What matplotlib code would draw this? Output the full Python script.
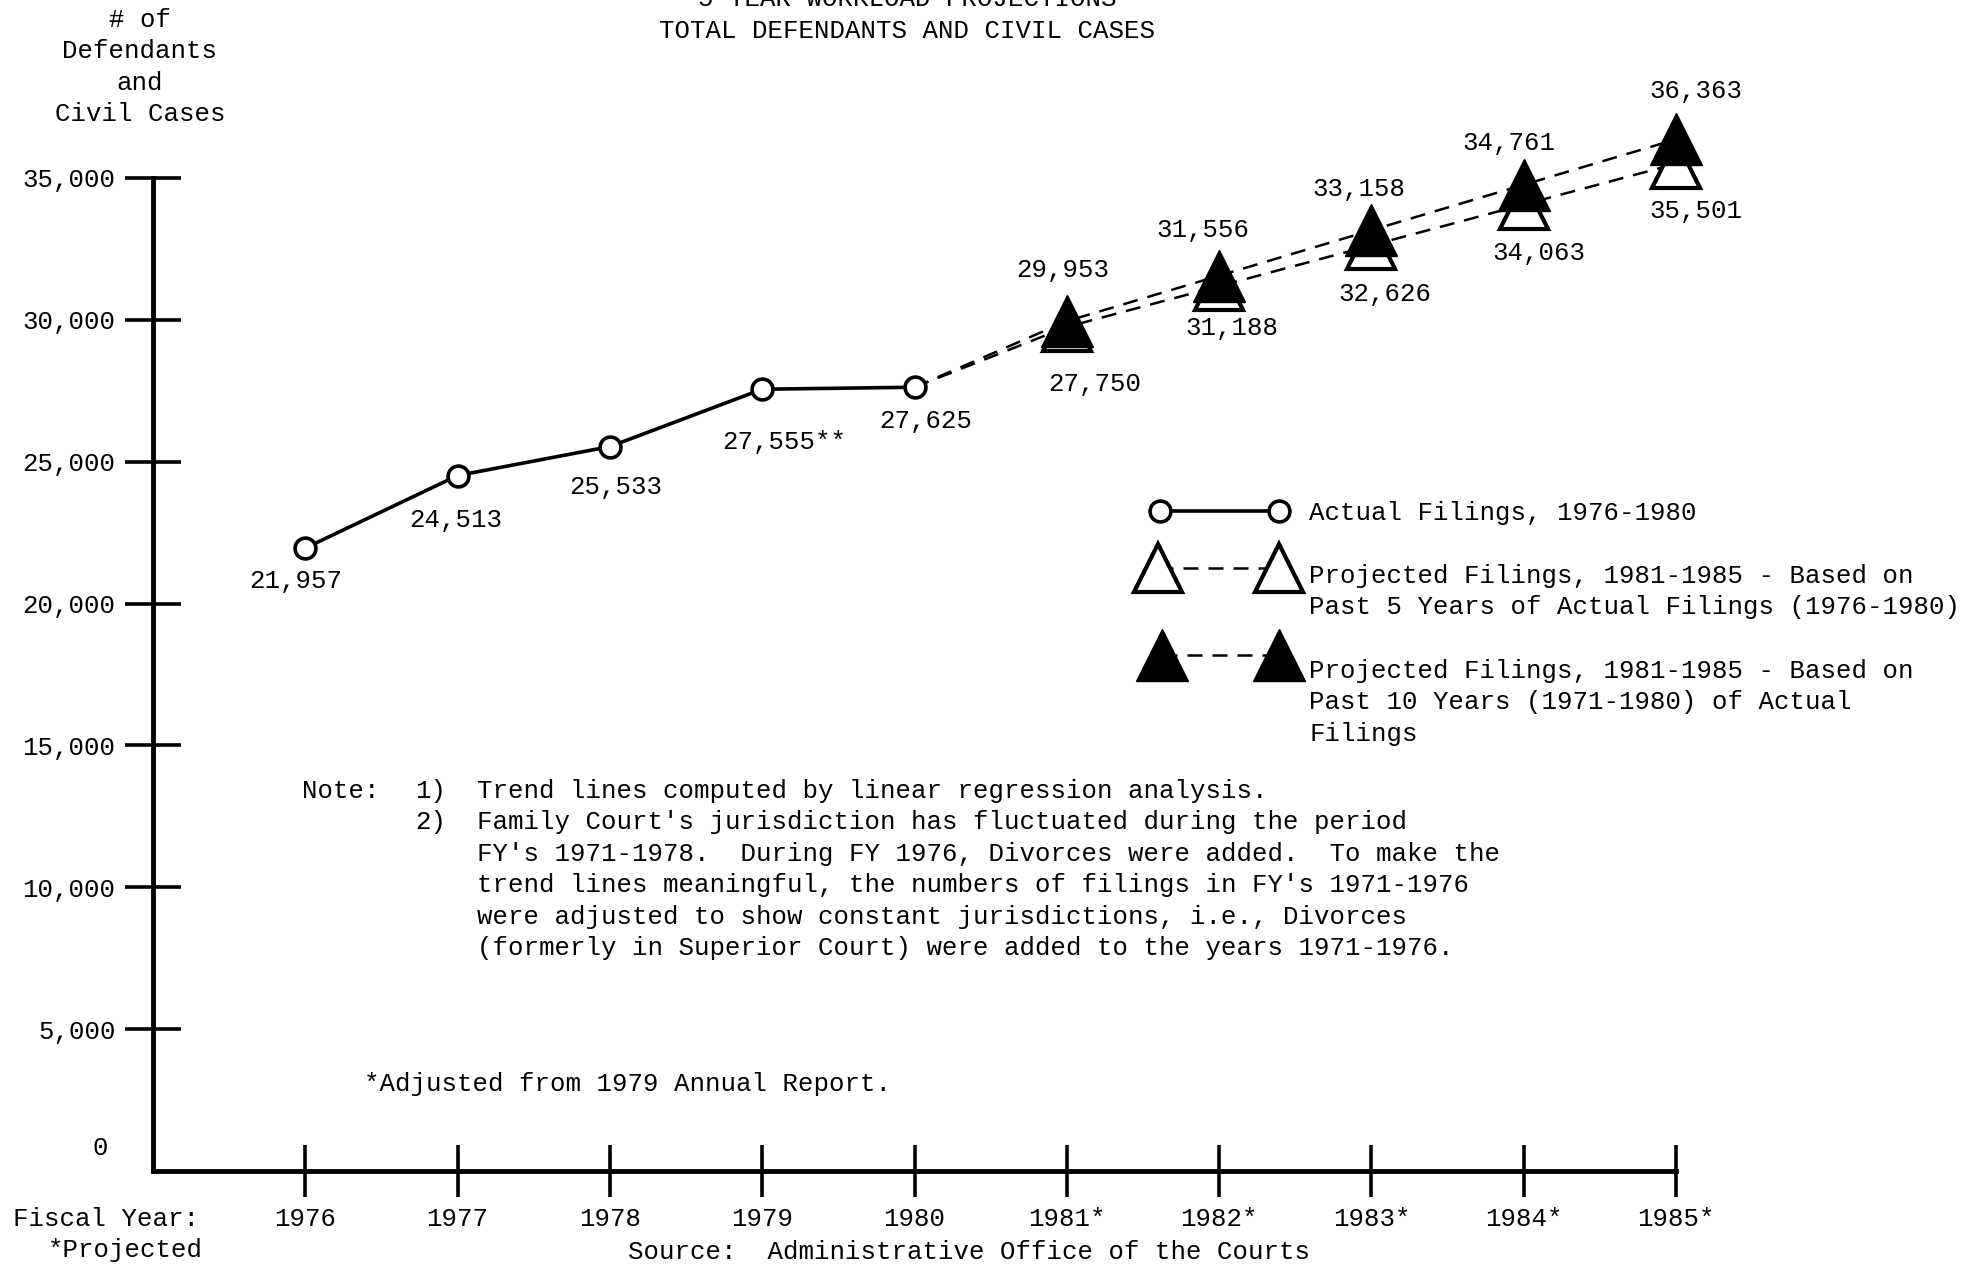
import matplotlib
matplotlib.use('Agg')
import matplotlib.pyplot as plt
import matplotlib.lines as mlines

# 打字机风格字体
plt.rcParams['font.family'] = ['Liberation Mono', 'DejaVu Sans Mono']
plt.rcParams['font.size'] = 18.5

# 数据
actual_years = [1976, 1977, 1978, 1979, 1980]
actual_values = [21957, 24513, 25533, 27555, 27625]
actual_labels = ['21,957', '24,513', '25,533', '27,555**', '27,625']

proj_years = [1981, 1982, 1983, 1984, 1985]
proj5_values = [29750, 31188, 32626, 34063, 35501]
proj5_labels = ['27,750', '31,188', '32,626', '34,063', '35,501']
proj10_values = [29953, 31556, 33158, 34761, 36363]
proj10_labels = ['29,953', '31,556', '33,158', '34,761', '36,363']

year_ticks = [1976, 1977, 1978, 1979, 1980, 1981, 1982, 1983, 1984, 1985]
year_labels = ['1976', '1977', '1978', '1979', '1980',
               '1981*', '1982*', '1983*', '1984*', '1985*']
y_ticks = [5000, 10000, 15000, 20000, 25000, 30000, 35000]
y_labels = ['5,000', '10,000', '15,000', '20,000', '25,000', '30,000', '35,000']

W, H = 1970, 1264
LS = 1.39  # 行距


def fx(px):
    return px / W


def fy(py):
    return 1 - py / H


fig = plt.figure(figsize=(W / 100, H / 100), dpi=100)
ax = fig.add_axes([fx(153), fy(1171), fx(1676) - fx(153), fy(178) - fy(1171)])

# 实际值
ax.plot(actual_years, actual_values, color='black', lw=2.6, zorder=3,
        marker='o', ms=15, mfc='white', mec='black', mew=2.6, clip_on=False)

# 预测值（虚线）
ax.plot([actual_years[-1]] + proj_years, [actual_values[-1]] + proj10_values,
        color='black', lw=1.8, ls=(0, (6, 4)), zorder=2, clip_on=False)
ax.plot([actual_years[-1]] + proj_years, [actual_values[-1]] + proj5_values,
        color='black', lw=1.8, ls=(0, (6, 4)), zorder=2, clip_on=False)
ax.plot(proj_years, proj5_values, ls='none', marker='^', ms=34, mfc='white',
        mec='black', mew=3, zorder=4, clip_on=False)
ax.plot(proj_years, proj10_values, ls='none', marker='^', ms=37, mfc='black',
        mec='black', mew=1, zorder=5, clip_on=False)

# 数据标签
actual_off = [(-7, -24), (-1, -32), (4, -29), (16, -38), (8, -24)]
p10_off = [(-3, 37), (-12, 33), (-9, 30), (-11, 30), (14, 35)]
p5_off = [(20, -41), (9, -30), (10, -35), (11, -35), (14, -34)]
for x, v, lab, off in zip(actual_years, actual_values, actual_labels, actual_off):
    ax.annotate(lab, (x, v), xytext=off, textcoords='offset points',
                ha='center', va='center', annotation_clip=False)
for x, v, lab, off in zip(proj_years, proj10_values, proj10_labels, p10_off):
    ax.annotate(lab, (x, v), xytext=off, textcoords='offset points',
                ha='center', va='center', annotation_clip=False)
for x, v, lab, off in zip(proj_years, proj5_values, proj5_labels, p5_off):
    ax.annotate(lab, (x, v), xytext=off, textcoords='offset points',
                ha='center', va='center', annotation_clip=False)

# 坐标轴
ax.set_xlim(1975, 1985)
ax.set_ylim(0, 35000)
ax.set_xticks(year_ticks, year_labels)
ax.set_yticks(y_ticks, y_labels)
ax.tick_params(axis='x', direction='inout', length=38, width=2.6, pad=7)
ax.tick_params(axis='y', direction='inout', length=40, width=2.6, pad=7)
for s in ['top', 'right']:
    ax.spines[s].set_visible(False)
for s in ['left', 'bottom']:
    ax.spines[s].set_linewidth(3.5)
ax.patch.set_alpha(0)

# 标题和轴标签
fig.text(fx(907), fy(-1), '5-YEAR WORKLOAD PROJECTIONS', ha='center', va='center')
fig.text(fx(907), fy(31), 'TOTAL DEFENDANTS AND CIVIL CASES', ha='center', va='center')
fig.text(fx(140), fy(8), '# of\nDefendants\nand\nCivil Cases',
         ha='center', va='top', multialignment='center', linespacing=LS)
fig.text(fx(100), fy(1148), '0', ha='center', va='center')
fig.text(fx(13), fy(1219), 'Fiscal Year:', ha='left', va='center')
fig.text(fx(125), fy(1250), '*Projected', ha='center', va='center')
fig.text(fx(628), fy(1252), 'Source:  Administrative Office of the Courts',
         ha='left', va='center')

# 图例（手绘）
fig.add_artist(mlines.Line2D([fx(1160), fx(1279)], [fy(511), fy(511)],
                             color='black', lw=2.6, marker='o', ms=15,
                             mfc='white', mec='black', mew=2.6))
fig.add_artist(mlines.Line2D([fx(1158), fx(1279)], [fy(568), fy(568)],
                             color='black', lw=1.8, ls=(0, (6, 4)), marker='^',
                             ms=34, mfc='white', mec='black', mew=3))
fig.add_artist(mlines.Line2D([fx(1162), fx(1279)], [fy(655), fy(655)],
                             color='black', lw=1.8, ls=(0, (6, 4)), marker='^',
                             ms=37, mfc='black', mec='black', mew=1))
fig.text(fx(1309), fy(513), 'Actual Filings, 1976-1980', va='center')
fig.text(fx(1309), fy(564), 'Projected Filings, 1981-1985 - Based on\n'
         'Past 5 Years of Actual Filings (1976-1980)', va='top', linespacing=LS)
fig.text(fx(1309), fy(659), 'Projected Filings, 1981-1985 - Based on\n'
         'Past 10 Years (1971-1980) of Actual\nFilings', va='top', linespacing=LS)

# 注释
fig.text(fx(302), fy(779), 'Note:', va='top')
fig.text(fx(415), fy(779), '1)\n2)', va='top', linespacing=LS)
fig.text(fx(477), fy(779),
         'Trend lines computed by linear regression analysis.\n'
         "Family Court's jurisdiction has fluctuated during the period\n"
         "FY's 1971-1978.  During FY 1976, Divorces were added.  To make the\n"
         "trend lines meaningful, the numbers of filings in FY's 1971-1976\n"
         'were adjusted to show constant jurisdictions, i.e., Divorces\n'
         '(formerly in Superior Court) were added to the years 1971-1976.',
         va='top', linespacing=LS)
fig.text(fx(364), fy(1084), '*Adjusted from 1979 Annual Report.', va='center')

fig.savefig('out.png', dpi=100)
